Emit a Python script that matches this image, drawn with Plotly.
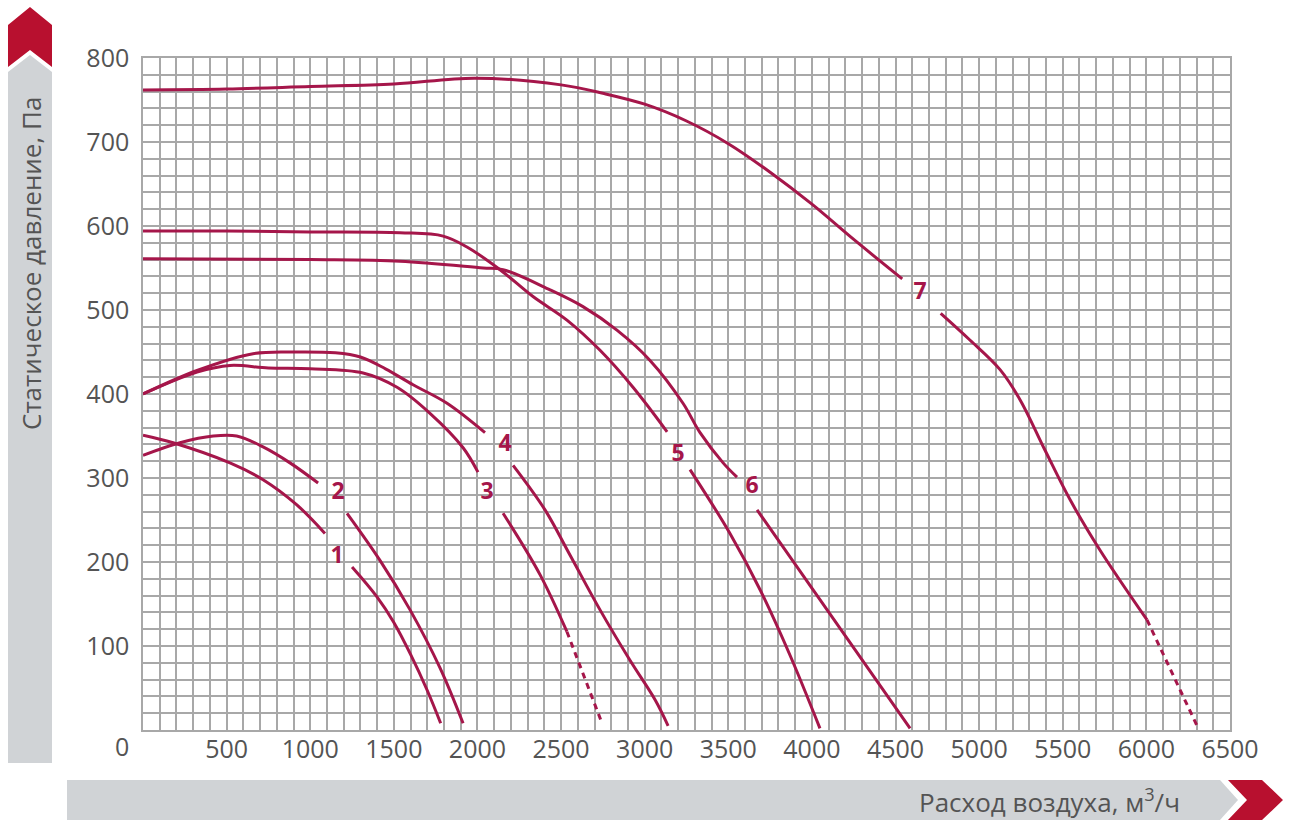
import plotly.graph_objects as go

# ---------------- data ----------------
x_ticks = [500, 1000, 1500, 2000, 2500, 3000, 3500, 4000, 4500, 5000, 5500, 6000, 6500]
y_ticks = [100, 200, 300, 400, 500, 600, 700, 800]

c1_x = [0, 180, 520, 718, 920, 1088, None, 1250, 1397, 1500, 1600, 1700, 1780]
c1_y = [351, 342, 318, 298, 268, 234, None, 194, 159, 128, 90, 47, 8]

c2_x = [0, 221, 420, 560, 718, 879, 1047, None, 1220, 1417, 1597, 1776, 1914]
c2_y = [327, 342, 350, 350, 337, 318, 294, None, 258, 202, 143, 74, 8]

c3_x = [0, 323, 520, 750, 1000, 1316, 1519, 1716, 1914, 2003, None, 2153, 2374, 2535]
c3_y = [400, 426, 434, 431, 430, 425, 408, 377, 336, 307, None, 258, 185, 117]
c3_dash_x = [2535, 2745]
c3_dash_y = [117, 8]

c4_x = [0, 323, 658, 900, 1150, 1300, 1450, 1615, 1818, 2045, None, 2213, 2404, 2554, 2733, 2912, 3062, 3140]
c4_y = [400, 428, 448, 450, 449, 444, 430, 411, 389, 354, None, 315, 262, 208, 143, 83, 36, 5]

c5_x = [0, 500, 1000, 1537, 1795, 1937, 2135, 2332, 2535, 2733, 2930, 3134, None, 3271, 3510, 3690, 3869, 4048]
c5_y = [594, 594, 593, 592, 588, 575, 548, 516, 488, 452, 408, 355, None, 310, 234, 167, 89, 2]

c6_x = [0, 1000, 1537, 2033, 2153, 2434, 2631, 2834, 3032, 3229, 3331, 3469, 3552, None, 3672, 4049, 4587]
c6_y = [561, 560, 558, 550, 548, 524, 504, 476, 440, 389, 354, 318, 301, None, 262, 155, 2]

c7_x = [0, 500, 1000, 1500, 1985, 2500, 2750, 3000, 3250, 3500, 3750, 4000, 4250, 4540, None,
        4770, 4946, 5125, 5245, 5394, 5544, 5723, 6004]
c7_y = [762, 763, 766, 769, 776, 768, 758, 745, 725, 698, 664, 626, 584, 537, None,
        496, 464, 429, 393, 333, 274, 214, 131]
c7_dash_x = [6004, 6310]
c7_dash_y = [131, 2]

label_text = ["1", "2", "3", "4", "5", "6", "7"]
label_x = [1160, 1166, 2057, 2165, 3200, 3642, 4647]
label_y = [206, 282, 282, 339, 327, 289, 520]

y_title = "Статическое давление, Па"
x_title = "Расход воздуха, м<sup style='font-size:15px'>3</sup>/ч"

# ---------------- style ----------------
CURVE = "#a5164a"
GRID = "#a8a8a8"
BAR = "#d0d3d6"
RED = "#b8102f"
TXT = "#545454"
FONT = "Open Sans"

W, H = 1290, 823
L, R, T, B = 143, 1230, 58, 730


def P(px, py):
    return ((px - L) / (R - L), (B - py) / (B - T))


def path(points):
    s = ""
    for i, (px, py) in enumerate(points):
        x, y = P(px, py)
        s += ("M" if i == 0 else "L") + f"{x:.5f},{y:.5f} "
    return s + "Z"


fig = go.Figure()

solid = [(c1_x, c1_y), (c2_x, c2_y), (c3_x, c3_y), (c4_x, c4_y),
         (c5_x, c5_y), (c6_x, c6_y), (c7_x, c7_y)]
for xs, ys in solid:
    fig.add_trace(go.Scatter(x=xs, y=ys, mode="lines",
                             line=dict(color=CURVE, width=3, shape="spline", smoothing=1.0),
                             connectgaps=False, hoverinfo="skip", showlegend=False))
for xs, ys in [(c3_dash_x, c3_dash_y), (c7_dash_x, c7_dash_y)]:
    fig.add_trace(go.Scatter(x=xs, y=ys, mode="lines",
                             line=dict(color=CURVE, width=3, dash="6px,5px"),
                             hoverinfo="skip", showlegend=False))

fig.add_trace(go.Scatter(x=label_x, y=label_y, mode="text", text=label_text,
                         textfont=dict(family=FONT, size=23, color=CURVE, weight="bold"),
                         hoverinfo="skip", showlegend=False))

shapes = [
    dict(type="path", xref="paper", yref="paper", layer="below",
         path=path([(8, 72), (30, 55), (52, 72), (52, 763), (8, 763)]),
         fillcolor=BAR, line=dict(width=0)),
    dict(type="path", xref="paper", yref="paper",
         path=path([(8, 25), (30, 7), (52, 25), (52, 67), (30, 50), (8, 67)]),
         fillcolor=RED, line=dict(width=0)),
    dict(type="path", xref="paper", yref="paper", layer="below",
         path=path([(67, 780), (1220, 780), (1238, 800), (1220, 820), (67, 820)]),
         fillcolor=BAR, line=dict(width=0)),
    dict(type="path", xref="paper", yref="paper",
         path=path([(1228, 780), (1262, 780), (1283, 800), (1262, 820), (1228, 820), (1247, 800)]),
         fillcolor=RED, line=dict(width=0)),
]

ty_x, ty_y = P(31, 264)
tx_x, tx_y = P(1182, 801)
annotations = [
    dict(text=y_title, xref="paper", yref="paper", x=ty_x, y=ty_y, textangle=-90,
         showarrow=False, xanchor="center", yanchor="middle",
         font=dict(family=FONT, size=26, color=TXT)),
    dict(text=x_title, xref="paper", yref="paper", x=tx_x, y=tx_y,
         showarrow=False, xanchor="right", yanchor="middle",
         font=dict(family=FONT, size=26, color=TXT)),
    dict(text="0", x=0, y=0, xref="x", yref="y", showarrow=False,
         xshift=-21, yshift=-16, font=dict(family=FONT, size=25, color=TXT)),
]

fig.update_layout(
    width=W, height=H,
    margin=dict(l=L, r=W - R, t=T, b=H - B, pad=0),
    paper_bgcolor="white", plot_bgcolor="white",
    shapes=shapes, annotations=annotations,
    xaxis=dict(range=[0, 6500], tickvals=x_ticks, showgrid=True, gridcolor=GRID, gridwidth=1.5,
               minor=dict(dtick=100, tick0=0, showgrid=True, gridcolor=GRID, gridwidth=1.5),
               showline=True, linecolor=GRID, linewidth=1.5, mirror=True, zeroline=False,
               ticks="", ticklabelstandoff=-4,
               tickfont=dict(family=FONT, size=25, color=TXT), fixedrange=True),
    yaxis=dict(range=[0, 800], tickvals=y_ticks, showgrid=True, gridcolor=GRID, gridwidth=1.5,
               minor=dict(dtick=20, tick0=0, showgrid=True, gridcolor=GRID, gridwidth=1.5),
               showline=True, linecolor=GRID, linewidth=1.5, mirror=True, zeroline=False,
               ticks="", ticklabelstandoff=7,
               tickfont=dict(family=FONT, size=25, color=TXT), fixedrange=True),
)

fig.write_html("out.html", config={"displayModeBar": False},
               post_script="document.body.style.margin='0';")
